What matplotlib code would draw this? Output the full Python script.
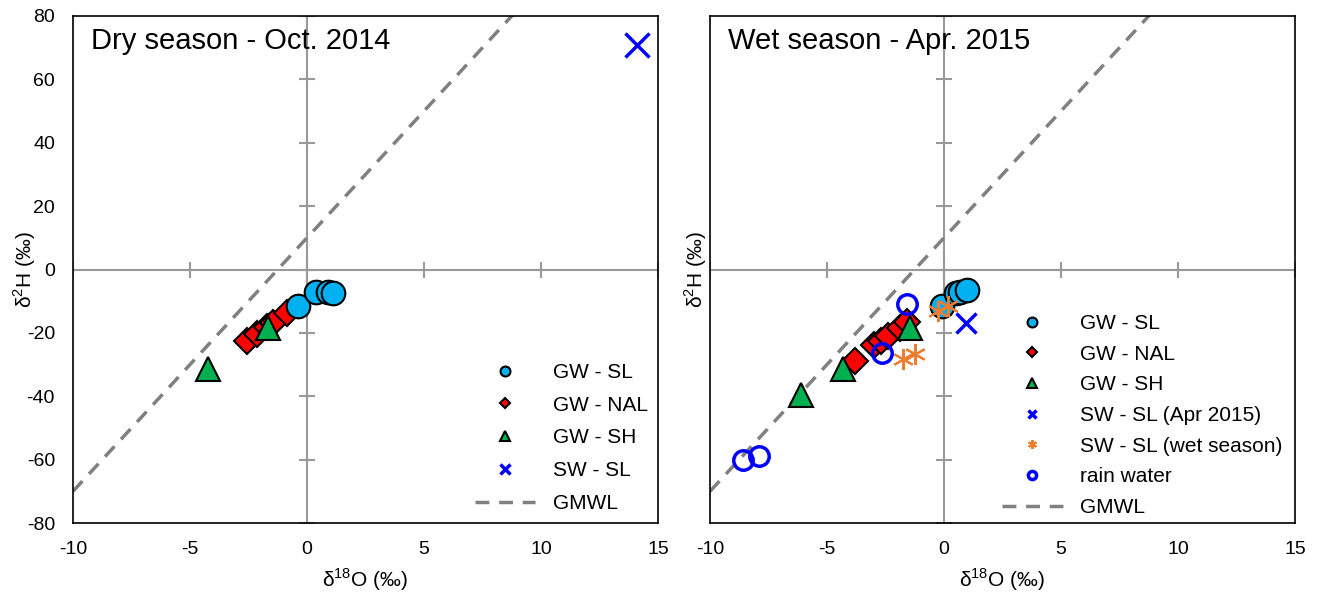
import numpy as np
import matplotlib
matplotlib.use("Agg")
import matplotlib.pyplot as plt

plt.rcParams['font.family'] = ['Liberation Sans', 'DejaVu Sans']
plt.rcParams['mathtext.fontset'] = 'custom'
plt.rcParams['mathtext.rm'] = 'Liberation Sans'
plt.rcParams['axes.unicode_minus'] = False

# dry season (Oct. 2014)
dry_gw_sl_x = [-0.4, 0.4, 0.9, 1.1]
dry_gw_sl_y = [-11.5, -7.2, -7.0, -7.3]
dry_gw_nal_x = [-2.55, -2.15, -1.7, -1.45, -0.85]
dry_gw_nal_y = [-22.5, -20.5, -18.0, -16.8, -13.6]
dry_gw_sh_x = [-4.25, -1.65]
dry_gw_sh_y = [-31.5, -18.5]
dry_sw_sl_x = [14.1]
dry_sw_sl_y = [71.0]

# wet season (Apr. 2015)
wet_gw_sl_x = [-0.1, 0.5, 0.7, 1.0]
wet_gw_sl_y = [-11.5, -7.5, -7.0, -6.5]
wet_gw_nal_x = [-3.8, -3.0, -2.7, -2.4, -1.9, -1.6]
wet_gw_nal_y = [-29.0, -23.7, -22.6, -21.0, -18.4, -16.7]
wet_gw_sh_x = [-6.1, -4.3, -1.45]
wet_gw_sh_y = [-39.5, -31.5, -18.5]
wet_sw_sl_x = [0.95]
wet_sw_sl_y = [-16.8]
wet_sw_season_x = [-0.25, 0.15, -1.75, -1.25]
wet_sw_season_y = [-13.0, -11.6, -28.4, -26.8]
rain_x = [-1.6, -2.65, -8.6, -7.9]
rain_y = [-11.0, -26.3, -60.0, -59.0]

# global meteoric water line
gmwl_x = np.array([-10, 15])
gmwl_y = 8 * gmwl_x + 10

xticks = [-10, -5, 0, 5, 10, 15]
yticks = [-80, -60, -40, -20, 0, 20, 40, 60, 80]

c_sl = '#00B0F0'
c_nal = '#FF0000'
c_sh = '#00B050'
c_sw = '#0000FF'
c_or = '#ED7D31'


def setup(ax, title, show_ylabels, ylab_x):
    ax.set_xlim(-10, 15)
    ax.set_ylim(-80, 80)
    ax.set_xticks(xticks)
    ax.set_yticks(yticks)
    ax.tick_params(length=0, labelsize=14, pad=13)
    if not show_ylabels:
        ax.set_yticklabels([])
    for s in ax.spines.values():
        s.set_color('black')
        s.set_linewidth(1.2)
    # axes crossing at zero, with tick marks
    ax.axhline(0, color='#999999', lw=1.5, zorder=1)
    ax.axvline(0, color='#999999', lw=1.5, zorder=1)
    ax.plot(xticks, np.zeros(len(xticks)), ls='none', marker='|', ms=11,
            mew=1.5, color='#999999', zorder=1)
    ax.plot(np.zeros(len(yticks)), yticks, ls='none', marker='_', ms=11,
            mew=1.5, color='#999999', zorder=1)
    ax.set_xlabel('δ$^{18}$O (‰)', fontsize=15)
    ax.set_ylabel('δ$^{2}$H (‰)', fontsize=15)
    ax.xaxis.set_label_coords(0.5, -0.085)
    ax.yaxis.set_label_coords(ylab_x, 0.5)
    ax.text(0.03, 0.95, title, transform=ax.transAxes, fontsize=21,
            va='center', ha='left')


fig = plt.figure(figsize=(13.18, 5.98), dpi=100)
ax1 = fig.add_axes([73 / 1318, 75 / 598, 585 / 1318, 507 / 598])
ax2 = fig.add_axes([710 / 1318, 75 / 598, 585 / 1318, 507 / 598])

setup(ax1, 'Dry season - Oct. 2014', True, -0.059)
setup(ax2, 'Wet season - Apr. 2015', False, -0.002)

# left panel
ax1.plot(gmwl_x, gmwl_y, ls=(0, (4, 2.8)), color='#808080', lw=2.5, zorder=2, label='GMWL')
ax1.plot(dry_gw_nal_x, dry_gw_nal_y, ls='none', marker='D', ms=13, mfc=c_nal,
         mec='black', mew=1.5, zorder=3, label='GW - NAL')
ax1.plot(dry_gw_sh_x, dry_gw_sh_y, ls='none', marker='^', ms=17, mfc=c_sh,
         mec='black', mew=1.5, zorder=4, label='GW - SH')
ax1.plot(dry_gw_sl_x, dry_gw_sl_y, ls='none', marker='o', ms=17, mfc=c_sl,
         mec='black', mew=1.5, zorder=5, label='GW - SL')
ax1.plot(dry_sw_sl_x, dry_sw_sl_y, ls='none', marker='x', ms=17, mec=c_sw,
         mew=2.5, zorder=5, label='SW - SL')

h, l = ax1.get_legend_handles_labels()
order = ['GW - SL', 'GW - NAL', 'GW - SH', 'SW - SL', 'GMWL']
hd = dict(zip(l, h))
ax1.legend([hd[k] for k in order], order, loc='lower right', frameon=False,
           fontsize=15, markerscale=0.42, handlelength=2.9, handletextpad=0.85,
           labelspacing=0.66, borderpad=0, borderaxespad=0,
           bbox_to_anchor=(0.983, 0.02))

# right panel
ax2.plot(gmwl_x, gmwl_y, ls=(0, (4, 2.8)), color='#808080', lw=2.5, zorder=2, label='GMWL')
ax2.plot(wet_gw_nal_x, wet_gw_nal_y, ls='none', marker='D', ms=13, mfc=c_nal,
         mec='black', mew=1.5, zorder=3, label='GW - NAL')
ax2.plot(wet_gw_sh_x, wet_gw_sh_y, ls='none', marker='^', ms=17, mfc=c_sh,
         mec='black', mew=1.5, zorder=4, label='GW - SH')
ax2.plot(wet_gw_sl_x, wet_gw_sl_y, ls='none', marker='o', ms=17, mfc=c_sl,
         mec='black', mew=1.5, zorder=5, label='GW - SL')
ax2.plot(wet_sw_season_x, wet_sw_season_y, ls='none', marker=(6, 2, 0), ms=15,
         mec=c_or, mew=1.5, zorder=6, label='SW - SL (wet season)')
ax2.plot(wet_sw_sl_x, wet_sw_sl_y, ls='none', marker='x', ms=15, mec=c_sw,
         mew=2.5, zorder=6, label='SW - SL (Apr 2015)')
ax2.plot(rain_x, rain_y, ls='none', marker='o', ms=14, mfc='none', mec=c_sw,
         mew=2.5, zorder=6, label='rain water')

h, l = ax2.get_legend_handles_labels()
order = ['GW - SL', 'GW - NAL', 'GW - SH', 'SW - SL (Apr 2015)',
         'SW - SL (wet season)', 'rain water', 'GMWL']
hd = dict(zip(l, h))
ax2.legend([hd[k] for k in order], order, loc='lower right', frameon=False,
           fontsize=15, markerscale=0.42, handlelength=2.9, handletextpad=0.85,
           labelspacing=0.56, borderpad=0, borderaxespad=0,
           bbox_to_anchor=(0.979, 0.012))

fig.savefig('out.png', dpi=100)
